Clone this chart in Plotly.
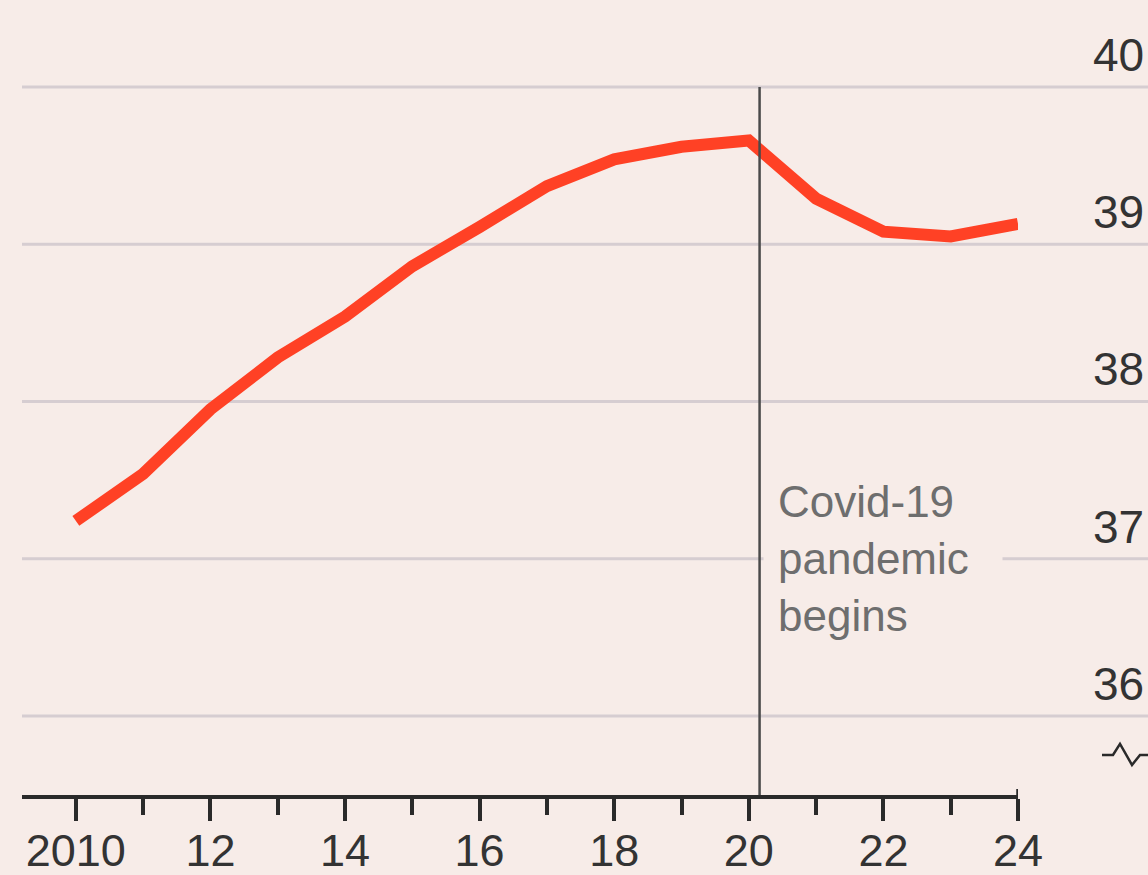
import plotly.graph_objects as go

years = [2010, 2011, 2012, 2013, 2014, 2015, 2016, 2017, 2018, 2019, 2020, 2021, 2022, 2023, 2024]
median_age = [37.24, 37.54, 37.95, 38.28, 38.54, 38.86, 39.11, 39.37, 39.54, 39.62, 39.66, 39.29, 39.08, 39.05, 39.13]

x_tickvals = [2010, 2012, 2014, 2016, 2018, 2020, 2022, 2024]
x_ticktext = ["2010", "12", "14", "16", "18", "20", "22", "24"]
y_tickvals = [36, 37, 38, 39, 40]
y_ticktext = ["36", "37", "38", "39", "40"]
covid_year = 2020.16
covid_label = "Covid-19<br>pandemic<br>begins"

BG = "#F7ECE8"
RED = "#FF4125"
GRID = "#D6CDD1"
AXIS = "#2A2A2A"
TEXT = "#333333"
NOTE = "#6E6E6E"

# vertical compensation for the capture (viewport taller than the picture)
K = 1 / 0.9854
W = 1148
H = 888
ML, MR = 22, 130
MT = 55 * K
AXIS_Y = 793 * K
MB = H - AXIS_Y
PW = W - ML - MR
PH = H - MT - MB
UNIT = 157 * K
FONT = "Liberation Sans, Arial, sans-serif"
Y_MAX = 40 + (86 * K - MT) / UNIT
Y_MIN = 36 - (AXIS_Y - 714 * K) / UNIT

def bx(px):
    return (px - ML) / PW

def by(py):
    return 1 - (py * K - MT) / PH

fig = go.Figure()

fig.add_trace(go.Scatter(
    x=years, y=median_age, mode="lines",
    line=dict(color=RED, width=12),
    hoverinfo="skip", showlegend=False,
))

shapes = []
for v in y_tickvals:
    shapes.append(dict(type="line", xref="paper", yref="y",
                       x0=0, x1=bx(W), y0=v, y1=v,
                       line=dict(color=GRID, width=3), layer="below"))
shapes.append(dict(type="line", xref="x", yref="y",
                   x0=covid_year, x1=covid_year, y0=Y_MIN, y1=y_tickvals[-1],
                   line=dict(color="#4A4A4A", width=2.5), layer="above"))
# small upward end cap at the last tick
shapes.append(dict(type="line", xref="x", yref="paper",
                   x0=x_tickvals[-1], x1=x_tickvals[-1], y0=by(793), y1=by(787),
                   line=dict(color=AXIS, width=3.5)))
# axis break symbol
pts = [(1102, 753), (1113, 753), (1120, 742), (1132, 763), (1140, 753), (1148, 753)]
path = "M " + " L ".join("{} {}".format(bx(px), by(py)) for px, py in pts)
shapes.append(dict(type="path", xref="paper", yref="paper", path=path,
                   line=dict(color=AXIS, width=2.5)))

annotations = []
for v, t in zip(y_tickvals, y_ticktext):
    annotations.append(dict(xref="paper", yref="y", x=bx(1146), y=v,
                            text=t, showarrow=False, xanchor="right", yanchor="bottom",
                            yshift=4 * K, font=dict(family=FONT, size=46, color=TEXT)))
annotations.append(dict(xref="x", yref="y", x=covid_year, y=37.0,
                        text=covid_label, showarrow=False, xanchor="left", yanchor="middle",
                        align="left", xshift=3, yshift=0, width=210, bgcolor=BG, borderpad=14,
                        font=dict(family=FONT, size=44, color=NOTE)))

fig.update_layout(
    width=W, height=H,
    margin=dict(l=ML, r=MR, t=MT, b=MB),
    paper_bgcolor=BG, plot_bgcolor=BG,
    shapes=shapes, annotations=annotations,
    showlegend=False,
    xaxis=dict(range=[2009.2, 2024.0], tickvals=x_tickvals, ticktext=x_ticktext,
               showgrid=False, zeroline=False, showline=True, linecolor=AXIS, linewidth=3.5,
               ticks="outside", ticklen=22, tickwidth=3.5, tickcolor=AXIS,
               ticklabelstandoff=-9,
               minor=dict(dtick=1, tick0=2009, ticks="outside", ticklen=16, tickwidth=3.5, tickcolor=AXIS),
               tickfont=dict(family=FONT, size=45, color=TEXT)),
    yaxis=dict(range=[Y_MIN, Y_MAX], showgrid=False, zeroline=False, showticklabels=False,
               showline=False),
)

fig.write_html("out.html", config={"displayModeBar": False},
               post_script="document.body.style.margin='0';document.body.style.overflow='hidden';document.body.style.background='#F7ECE8';")
